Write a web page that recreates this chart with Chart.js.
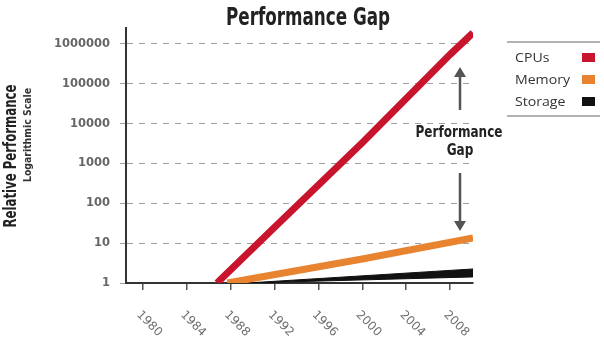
<!DOCTYPE html>
<html>
<head>
<meta charset="utf-8">
<script src="https://cdn.jsdelivr.net/npm/chart.js@4/dist/chart.umd.min.js"></script>
<style>
  html, body { margin: 0; padding: 0; background: #ffffff; }
  canvas { display: block; }
</style>
</head>
<body>
<canvas id="c" width="604" height="338"></canvas>
<script>
// ---- data ----
const seriesNames = ['CPUs', 'Memory', 'Storage'];
const seriesColors = ['#c8142c', '#e8832f', '#111111'];

const cpuYears = [1986.75, 1992, 2000, 2008, 2010.1];
const cpuValues = [1, 25, 3300, 540000, 1900000];

const memoryYears = [1987.7, 2000, 2010.1];
const memoryValues = [1, 4, 13.5];

const storageYears = [1989.5, 2010.1];
const storageUpper = [1, 2.25];
const storageLower = [1, 1.42];

const xTickValues = [1980, 1984, 1988, 1992, 1996, 2000, 2004, 2008];
const xTickLabels = ['1980', '1984', '1988', '1992', '1996', '2000', '2004', '2008'];
const yTickValues = [1, 10, 100, 1000, 10000, 100000, 1000000];
const yTickLabels = ['1', '10', '100', '1000', '10000', '100000', '1000000'];

const titleText = 'Performance Gap';
const yTitle = 'Relative Performance';
const ySubTitle = 'Logarithmic Scale';
const gapLabel = ['Performance', 'Gap'];

const pts = (xs, ys) => xs.map((x, i) => ({ x: x, y: ys[i] }));

const NARROW = "'Liberation Sans Narrow', 'DejaVu Sans Condensed', 'Arial Narrow', sans-serif";

function fitText(ctx, text, x, y, targetW, align) {
  const w = ctx.measureText(text).width;
  const s = targetW / w;
  ctx.save();
  ctx.translate(x, y);
  ctx.scale(s, 1);
  ctx.textAlign = align;
  ctx.fillText(text, 0, 0);
  ctx.restore();
  return s;
}

const decor = {
  id: 'decor',
  afterDraw(chart) {
    const ctx = chart.ctx;
    const xs = chart.scales.x;
    ctx.save();
    ctx.textBaseline = 'alphabetic';

    // Title
    ctx.fillStyle = '#222222';
    ctx.font = 'bold 25px ' + NARROW;
    fitText(ctx, titleText, 308, 25, 164, 'center');

    // Y axis titles (rotated)
    ctx.save();
    ctx.translate(16, 156);
    ctx.rotate(-Math.PI / 2);
    ctx.font = 'bold 17px ' + NARROW;
    ctx.fillStyle = '#222222';
    fitText(ctx, yTitle, 0, 0, 143, 'center');
    ctx.restore();

    ctx.save();
    ctx.translate(31, 135);
    ctx.rotate(-Math.PI / 2);
    ctx.font = 'bold 11px ' + NARROW;
    ctx.fillStyle = '#333333';
    fitText(ctx, ySubTitle, 0, 0, 94, 'center');
    ctx.restore();

    // X tick labels, rotated clockwise
    ctx.font = '12px DejaVu Sans';
    ctx.fillStyle = '#6e6e6e';
    xTickValues.forEach((v, i) => {
      const px = xs.getPixelForValue(v);
      ctx.save();
      ctx.translate(px - 4.5, 313);
      ctx.rotate(Math.PI / 4);
      ctx.textAlign = 'left';
      ctx.textBaseline = 'middle';
      ctx.fillText(xTickLabels[i], 0, 0);
      ctx.restore();
    });

    // Legend
    ctx.strokeStyle = '#9a9a9a';
    ctx.lineWidth = 1.5;
    ctx.beginPath();
    ctx.moveTo(507, 42); ctx.lineTo(600, 42);
    ctx.moveTo(507, 116); ctx.lineTo(600, 116);
    ctx.stroke();
    ctx.font = '12px "Open Sans", sans-serif';
    const memW = ctx.measureText('Memory').width;
    const legS = 55 / memW;
    const legY = [57, 79, 101];
    seriesNames.forEach((n, i) => {
      ctx.fillStyle = '#333333';
      ctx.save();
      ctx.translate(515, legY[i] + 4.5);
      ctx.scale(legS, 1);
      ctx.textAlign = 'left';
      ctx.fillText(n, 0, 0);
      ctx.restore();
      ctx.fillStyle = seriesColors[i];
      ctx.fillRect(582, legY[i] - 4, 13, 9);
    });

    // Performance gap annotation
    ctx.fillStyle = '#222222';
    ctx.font = 'bold 16px ' + NARROW;
    const s = fitText(ctx, gapLabel[0], 459, 137, 87, 'center');
    ctx.save();
    ctx.translate(460, 155);
    ctx.scale(s, 1);
    ctx.textAlign = 'center';
    ctx.fillText(gapLabel[1], 0, 0);
    ctx.restore();

    ctx.strokeStyle = '#555555';
    ctx.fillStyle = '#555555';
    ctx.lineWidth = 2.5;
    ctx.beginPath();
    ctx.moveTo(460, 110); ctx.lineTo(460, 75);
    ctx.moveTo(460, 173); ctx.lineTo(460, 223);
    ctx.stroke();
    ctx.beginPath();
    ctx.moveTo(460, 67); ctx.lineTo(466, 77); ctx.lineTo(454, 77); ctx.closePath();
    ctx.moveTo(460, 231); ctx.lineTo(466, 221); ctx.lineTo(454, 221); ctx.closePath();
    ctx.fill();

    ctx.restore();
  }
};

new Chart(document.getElementById('c'), {
  type: 'line',
  data: {
    datasets: [
      { label: seriesNames[0], data: pts(cpuYears, cpuValues), borderColor: seriesColors[0], borderWidth: 7, pointRadius: 0, tension: 0, fill: false, clip: 0, borderCapStyle: 'butt' },
      { label: seriesNames[1], data: pts(memoryYears, memoryValues), borderColor: seriesColors[1], borderWidth: 7, pointRadius: 0, tension: 0, fill: false, clip: 0, borderCapStyle: 'butt' },
      { label: seriesNames[2], data: pts(storageYears, storageUpper), borderColor: seriesColors[2], backgroundColor: seriesColors[2], borderWidth: 1, pointRadius: 0, tension: 0, fill: '+1', clip: 0 },
      { label: seriesNames[2] + ' (lower)', data: pts(storageYears, storageLower), borderColor: seriesColors[2], borderWidth: 1, pointRadius: 0, tension: 0, fill: false, clip: 0 }
    ]
  },
  options: {
    responsive: false,
    animation: false,
    devicePixelRatio: 1,
    layout: { padding: { left: 0, top: 28, right: 131, bottom: 0 } },
    plugins: { legend: { display: false }, title: { display: false }, tooltip: { enabled: false } },
    scales: {
      x: {
        type: 'linear',
        min: 1978.45,
        max: 2010.1,
        afterBuildTicks: (s) => { s.ticks = xTickValues.map(v => ({ value: v })); },
        afterFit: (s) => { s.height = 55; },
        ticks: { display: false },
        grid: { display: true, drawOnChartArea: false, drawTicks: true, tickLength: 7, color: '#555555', lineWidth: 1.5 },
        border: { display: true, color: '#333333', width: 2 }
      },
      y: {
        type: 'logarithmic',
        min: 1,
        max: Math.pow(10, 6.4),
        afterBuildTicks: (s) => { s.ticks = yTickValues.map(v => ({ value: v })); },
        afterFit: (s) => { s.width = 126; },
        ticks: {
          autoSkip: false,
          padding: 10,
          color: '#666666',
          font: { family: 'DejaVu Sans', weight: 'bold', size: 11.5 },
          callback: (v, i) => yTickLabels[i]
        },
        grid: { display: true, color: '#a0a0a0', lineWidth: 1, tickLength: 6, drawTicks: true },
        border: { display: true, color: '#333333', width: 2, dash: [6, 6] }
      }
    }
  },
  plugins: [decor]
});
</script>
</body>
</html>
